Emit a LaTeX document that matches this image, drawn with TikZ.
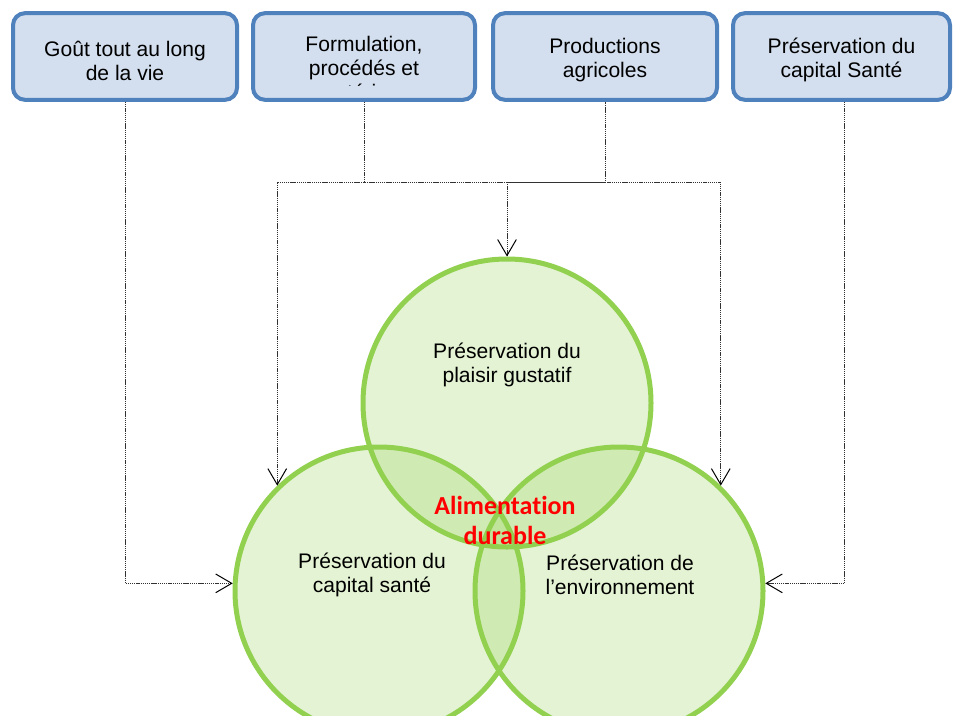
\documentclass[tikz,border=0pt]{standalone}
\usepackage{fontspec}
\setmainfont{Liberation Sans}
\newfontfamily\carlito[Ligatures={NoCommon}]{Carlito}
\usetikzlibrary{arrows.meta}
\definecolor{boxline}{RGB}{79,129,189}
\definecolor{boxfill}{RGB}{211,223,238}
\definecolor{leaf}{RGB}{146,208,80}
\definecolor{connc}{RGB}{50,50,50}
\tikzset{
  topbox/.style={draw=boxline, fill=boxfill, line width=3pt, rounded corners=9pt,
    minimum height=65pt},
  ring/.style={circle, draw=leaf, fill=leaf, fill opacity=0.25, draw opacity=1,
    line width=3.75pt, minimum size=216pt, inner sep=0pt},
  ctext/.style={align=center, font=\fontsize{15.8}{18}\selectfont},
  conn/.style={draw=connc, line width=0.75pt, dash pattern=on 1pt off 0.6pt},
  tip/.style={-{Straight Barb[length=12pt,width=14pt,line width=0.75pt,color=black]}}
}
\begin{document}
\begin{tikzpicture}[x=0.75pt,y=-0.75pt]
\useasboundingbox (0,0) rectangle (953,715);
% boxes
\node[topbox, minimum width=168pt] (b1) at (125,56.5) {};
\node[topbox, minimum width=166.5pt] (b2) at (364,56.5) {};
\node[topbox, minimum width=168pt] (b3) at (605,56.5) {};
\node[topbox, minimum width=162.75pt] (b4) at (841.5,56.5) {};
\node[ctext] (t1) at (125,61) {Goût tout au long\\de la vie};
\node[ctext] (t3) at (605,60) {Productions\\agricoles};
\node[ctext] (t4) at (841.5,60) {Préservation du\\capital Santé};
\begin{scope}
\clip (255,15) rectangle (473,85);
\node[ctext] (t2) at (364,68) {Formulation,\\procédés et\\matériaux};
\end{scope}
% circles
\node[ring] (ct) at (507,403) {};
\node[ring] (cl) at (379,591) {};
\node[ring] (cr) at (619,591) {};
% circle texts
\node[ctext] (lt) at (507,365) {Préservation du\\plaisir gustatif};
\node[ctext] (ll) at (372,575) {Préservation du\\capital santé};
\node[ctext] (lr) at (620,575) {Préservation de\\l’environnement};
\node[align=center, text=red, font=\carlito\bfseries\fontsize{19.5}{22.5}\selectfont] (ad) at (505,520) {Alimentation\\durable};
% connectors
\coordinate (hub) at (507,182);
\draw[conn] (b2.south) |- (hub) -| (b3.south);
\draw[conn,tip] (hub) -- (ct.north);
\draw[conn,tip] (hub) -| (cl.134);
\draw[conn,tip] (hub) -| (cr.46);
\draw[conn,tip] (b1.south) |- (cl.177);
\draw[conn,tip] ([xshift=2.5pt]b4.south) |- (cr.3);
\end{tikzpicture}
\end{document}
